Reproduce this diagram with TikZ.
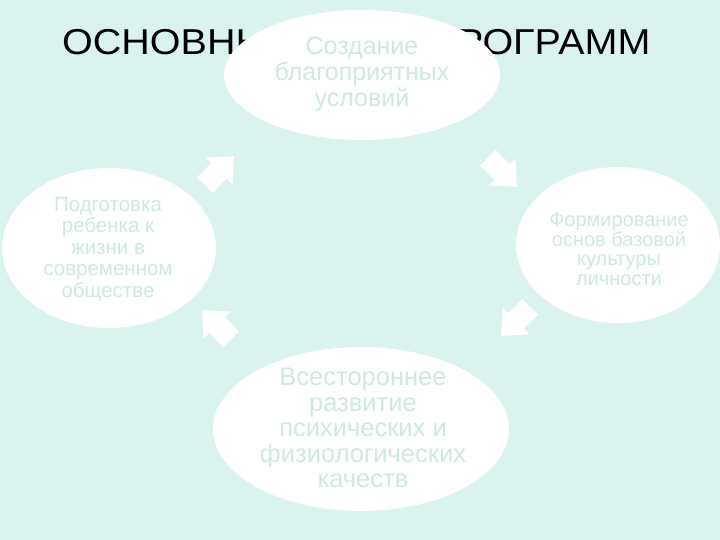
\documentclass[tikz,border=0pt]{standalone}
\usepackage{fontspec}
\setmainfont{Liberation Sans}
\definecolor{bg}{HTML}{DAF3EF}
\definecolor{faint}{HTML}{CFE9E4}
\tikzset{
  blobtext/.style={text=faint, align=center, inner sep=0pt},
  cyclearrow/.pic={\fill[white] (21,0) -- (0,19) -- (0,11) -- (-20,11) -- (-20,-11) -- (0,-11) -- (0,-19) -- cycle;}
}
\begin{document}
\begin{tikzpicture}[x=1pt,y=-1pt]
\useasboundingbox (0,0) rectangle (720,540);
\fill[bg] (0,0) rectangle (720,540);
% title (partly hidden behind the top ellipse)
\node[anchor=base west, inner sep=0pt, font=\fontsize{36}{40}\selectfont] (title) at (62,55) {\scalebox{1.097}[1]{ОСНОВНЫЕ ЦЕЛИ ПРОГРАММ}};
% ellipses
\fill[white] (362,75) ellipse [x radius=138, y radius=65];
\node[blobtext, font=\fontsize{25}{26}\selectfont] (top) at (362,74) {Создание\\благоприятных\\условий};
\fill[white] (109,248) ellipse [x radius=107, y radius=80];
\node[blobtext, font=\fontsize{20.5}{21.5}\selectfont] (left) at (108,249) {Подготовка\\ребенка к\\жизни в\\современном\\обществе};
\fill[white] (618,245) ellipse [x radius=102, y radius=78];
\node[blobtext, font=\fontsize{20}{19.5}\selectfont] (right) at (619,249) {Формирование\\основ базовой\\культуры\\личности};
\fill[white] (361,429) ellipse [x radius=148, y radius=82];
\node[blobtext, font=\fontsize{25.5}{25.5}\selectfont] (bottom) at (363,428) {Всестороннее\\развитие\\психических и\\физиологических\\качеств};
% arrows
\pic[rotate=45] at (219,171) {cyclearrow};
\pic[rotate=-45] at (502,172) {cyclearrow};
\pic[rotate=-135] at (516,321) {cyclearrow};
\pic[rotate=135] at (217,325) {cyclearrow};
\end{tikzpicture}
\end{document}
